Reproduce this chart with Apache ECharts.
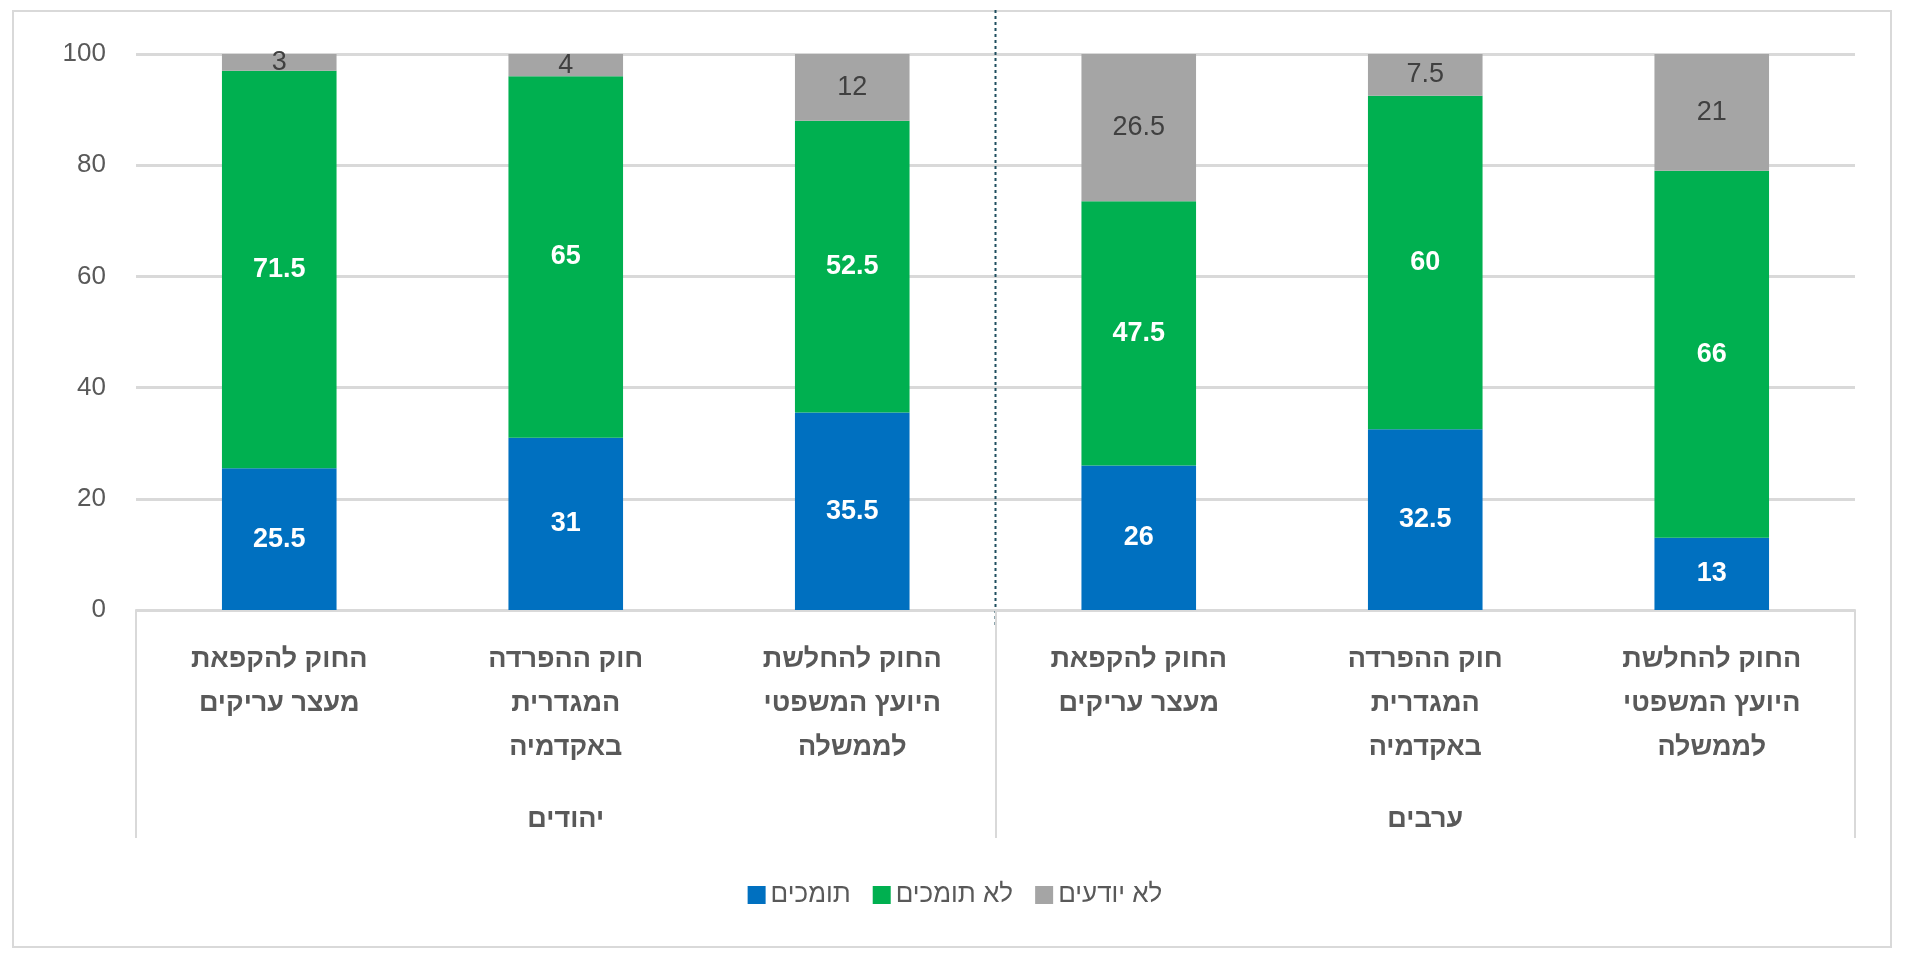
<!DOCTYPE html><html><head><meta charset="utf-8"><script src="https://cdn.jsdelivr.net/npm/echarts@6/dist/echarts.min.js"></script>
<style>html,body{margin:0;background:#fff}#c{width:1910px;height:965px}#f{position:absolute;left:12px;top:10px;width:1880px;height:938px;border:2px solid #d9d9d9;box-sizing:border-box}</style></head><body><div id="f"></div><div id="c"></div><script>
const categories=['החוק להקפאת\nמעצר עריקים','חוק ההפרדה\nהמגדרית\nבאקדמיה','החוק להחלשת\nהיועץ המשפטי\nלממשלה','החוק להקפאת\nמעצר עריקים','חוק ההפרדה\nהמגדרית\nבאקדמיה','החוק להחלשת\nהיועץ המשפטי\nלממשלה'];
const groups=['יהודים','ערבים'];
const support=[25.5,31,35.5,26,32.5,13];
const oppose=[71.5,65,52.5,47.5,60,66];
const unknown=[3,4,12,26.5,7.5,21];
const F='Liberation Sans, Arial, sans-serif';
const chart=echarts.init(document.getElementById('c'));
const lbl=(c,b)=>({show:true,color:c,fontWeight:b?'bold':'normal',fontSize:27,fontFamily:F});
chart.setOption({
 grid:{left:136,right:55,top:54,bottom:355},
 legend:{bottom:52,itemWidth:18,itemHeight:18,itemGap:22,icon:'rect',textStyle:{fontSize:26,color:'#595959',fontFamily:F},data:['תומכים','לא תומכים','לא יודעים']},
 xAxis:[{type:'category',data:categories,axisLine:{lineStyle:{color:'#d9d9d9',width:2}},axisTick:{show:false},axisLabel:{interval:0,fontSize:27,fontWeight:'bold',color:'#595959',lineHeight:44,margin:28,fontFamily:F}},
 {type:'category',data:groups,position:'bottom',axisLine:{show:false},axisTick:{show:true,length:228,lineStyle:{color:'#d9d9d9',width:2}},axisLabel:{fontSize:27,fontWeight:'bold',color:'#595959',margin:196,fontFamily:F}}],
 yAxis:{type:'value',min:0,max:100,interval:20,axisLabel:{fontSize:26,color:'#595959',margin:30,fontFamily:F},splitLine:{lineStyle:{color:'#d9d9d9',width:3}}},
 series:[
 {name:'תומכים',type:'bar',stack:'a',data:support,barCategoryGap:'60%',itemStyle:{color:'#0070C0'},label:lbl('#fff',true)},
 {name:'לא תומכים',type:'bar',stack:'a',data:oppose,itemStyle:{color:'#00B050'},label:lbl('#fff',true)},
 {name:'לא יודעים',type:'bar',stack:'a',data:unknown,itemStyle:{color:'#A5A5A5'},label:lbl('#404040',false)}]
});
const x=(chart.convertToPixel({xAxisIndex:0},2)+chart.convertToPixel({xAxisIndex:0},3))/2;
chart.setOption({graphic:[{type:'line',shape:{x1:x,y1:10,x2:x,y2:627},style:{stroke:'#1f4e5f',lineWidth:2,lineDash:[3,3]}}]});
</script></body></html>
